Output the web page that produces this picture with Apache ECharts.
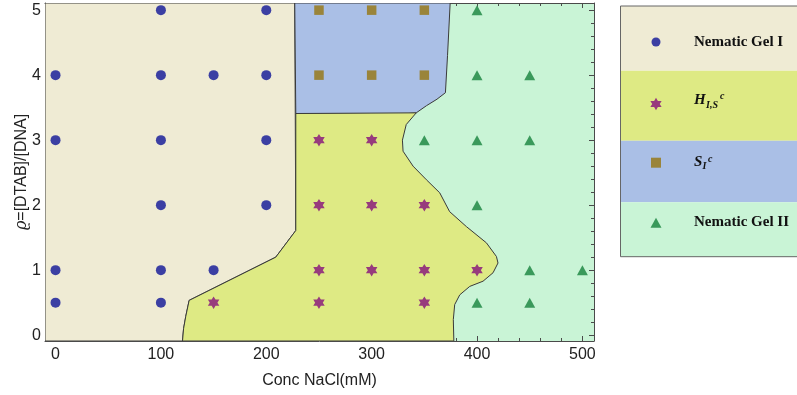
<!DOCTYPE html>
<html><head><meta charset="utf-8">
<script src="https://cdn.jsdelivr.net/npm/echarts@6/dist/echarts.min.js"></script>
<style>html,body{margin:0;padding:0;background:#fff}#c{width:797px;height:395px}</style>
</head><body><div id="c"></div>
<script>
// ---- tick values ----
const xTicks = [0, 100, 200, 300, 400, 500];
const yTicks = [0, 1, 2, 3, 4, 5];
const xMinor = [];
for (let v = 20; v < 510; v += 20) if (v % 100 !== 0) xMinor.push(v);
const yMinor = [];
for (let k = 1; k < 26; k++) if (k % 5 !== 0) yMinor.push(Math.round(k * 2) / 10);

// ---- measured points (Conc NaCl, rho) ----
const gelIPts  = [[0,0.5],[0,1],[0,3],[0,4],[100,0.5],[100,1],[100,2],[100,3],[100,4],[100,5],[150,1],[150,4],[200,2],[200,3],[200,4],[200,5]];
const hexPts   = [[150,0.5],[250,0.5],[250,1],[250,2],[250,3],[300,1],[300,2],[300,3],[350,0.5],[350,1],[350,2],[400,1]];
const lamPts   = [[250,4],[250,5],[300,4],[300,5],[350,4],[350,5]];
const gelIIPts = [[350,3],[400,0.5],[400,2],[400,3],[400,4],[400,5],[450,0.5],[450,1],[450,3],[450,4],[500,1]];

// ---- phase boundaries (data space) ----
const gelIRegion = [[-10,-0.09],[120.5,-0.09],[121.5,0.1],[123.6,0.29],[126.8,0.535],[209,1.2],[228,1.61],[227,5.11],[-10,5.11]];
const lamRegion  = [[227,5.11],[374.5,5.11],[372,4.3],[370,3.73],[362,3.63],[352,3.53],[342.3,3.42],[335,3.41],[228,3.41]];
const hexRegion  = [[120.5,-0.09],[378,-0.09],[377.5,0.24],[378.8,0.47],[383.6,0.62],[393.1,0.75],[405.7,0.83],[415.2,0.96],[419.9,1.11],[418.4,1.21],[408.9,1.42],[389.9,1.67],[374,1.9],[364.6,2.19],[352,2.39],[339.3,2.6],[329.8,2.83],[329.2,3.0],[332.8,3.24],[342.3,3.42],[228,3.41],[228,1.61],[209,1.2],[126.8,0.535],[123.6,0.29],[121.5,0.1]];

const C_GEL1 = '#EFEBD4', C_HEX = '#DEEA84', C_LAM = '#AABFE6', C_GEL2 = '#C9F4D6';
const M_GEL1 = '#3B3FA3', M_HEX = '#973B7D', M_LAM = '#9A843A', M_GEL2 = '#3A995B';
const regions = [
  {pts: gelIRegion, color: C_GEL1},
  {pts: lamRegion, color: C_LAM},
  {pts: hexRegion, color: C_HEX}
];
const STAR_PTS = [[0,-10],[2.887,-5],[8.66,-5],[5.774,0],[8.66,5],[2.887,5],[0,10],[-2.887,5],[-8.66,5],[-5.774,0],[-8.66,-5],[-2.887,-5]];
const STAR = 'path://M' + STAR_PTS.map(p => p[0] + ',' + p[1]).join('L') + 'Z';

const AX = '#4a4a4a';
const SANS = '"Liberation Sans", Arial, sans-serif';
const SERIF = '"Liberation Serif", "Times New Roman", serif';
const XMIN = -10, XMAX = 511, YMIN = -0.09, YMAX = 5.11;

function xAx(pos, major, labels) {
  return {
    type: 'value', position: pos, min: XMIN, max: XMAX, splitLine: {show: false},
    axisLine: {show: major, onZero: false, lineStyle: {color: AX, width: 1}},
    axisTick: {show: true, inside: true, length: major ? 5 : 3, customValues: major ? xTicks : xMinor, lineStyle: {color: AX}},
    axisLabel: {show: labels, customValues: xTicks, margin: 6, fontSize: 16, fontFamily: SANS, color: '#222'},
    name: labels ? 'Conc NaCl(mM)' : '', nameLocation: 'middle', nameGap: 32, nameMoveOverlap: false,
    nameTextStyle: {fontSize: 16, fontFamily: SANS, color: '#222'}
  };
}
function yAx(pos, major, labels) {
  return {
    type: 'value', position: pos, min: YMIN, max: YMAX, splitLine: {show: false},
    axisLine: {show: major, onZero: false, lineStyle: {color: AX, width: 1}},
    axisTick: {show: true, inside: true, length: major ? 5 : 3, customValues: major ? yTicks : yMinor, lineStyle: {color: AX}},
    axisLabel: {show: labels, customValues: yTicks, margin: 4, fontSize: 16, fontFamily: SANS, color: '#222'},
    name: labels ? '{i|ϱ}=[DTAB]/[DNA]' : '', nameLocation: 'middle', nameGap: 15, nameRotate: 90, nameMoveOverlap: false,
    nameTextStyle: {fontSize: 16, fontFamily: SANS, color: '#222', rich: {i: {fontSize: 16, fontStyle: 'italic', fontFamily: '"DejaVu Serif", serif', color: '#222'}}}
  };
}

function legendSym(type, cx, cy) {
  if (type === 'circle') return {type: 'circle', shape: {cx: cx, cy: cy, r: 4.5}, style: {fill: M_GEL1}};
  if (type === 'star') return {type: 'polygon', shape: {points: STAR_PTS.map(p => [cx + p[0] * 0.65, cy + p[1] * 0.62])}, style: {fill: M_HEX}};
  if (type === 'rect') return {type: 'rect', shape: {x: cx - 5, y: cy - 5, width: 10, height: 10}, style: {fill: M_LAM}};
  return {type: 'polygon', shape: {points: [[cx, cy - 5], [cx + 5.5, cy + 5], [cx - 5.5, cy + 5]]}, style: {fill: M_GEL2}};
}
function txt(x, y, s, font, va) {
  return {type: 'text', x: x, y: y, style: {text: s, font: font, fill: '#111', verticalAlign: va || 'middle', align: 'left'}};
}
const LBI = 'bold italic 15px ' + SERIF;
const LBI_S = 'bold italic 10px ' + SERIF;

const chart = echarts.init(document.getElementById('c'), null, {renderer: 'canvas'});
chart.setOption({
  animation: false,
  grid: {left: 45, right: 203, top: 3, bottom: 54, show: true, backgroundColor: C_GEL2, borderWidth: 0},
  xAxis: [xAx('bottom', true, true), xAx('bottom', false, false), xAx('top', true, false), xAx('top', false, false)],
  yAxis: [yAx('left', true, true), yAx('left', false, false), yAx('right', true, false), yAx('right', false, false)],
  series: [
    {
      type: 'custom', z: 1, silent: true, clip: true,
      data: regions.map((r, i) => [i, 0]),
      renderItem: function (params, api) {
        const reg = regions[params.dataIndex];
        return {type: 'polygon', shape: {points: reg.pts.map(p => api.coord(p))},
                style: {fill: reg.color, stroke: '#3a3a3a', lineWidth: 1}};
      }
    },
    {type: 'scatter', z: 3, data: gelIPts, symbol: 'circle', symbolSize: 10, itemStyle: {color: M_GEL1, opacity: 1}},
    {type: 'scatter', z: 3, data: hexPts, symbol: STAR, symbolSize: [11.5, 12.5], itemStyle: {color: M_HEX, opacity: 1}},
    {type: 'scatter', z: 3, data: lamPts, symbol: 'rect', symbolSize: 9.5, itemStyle: {color: M_LAM, opacity: 1}},
    {type: 'scatter', z: 3, data: gelIIPts, symbol: 'triangle', symbolSize: [11, 10], itemStyle: {color: M_GEL2, opacity: 1}}
  ],
  graphic: [
    {type: 'rect', shape: {x: 620.5, y: 6, width: 200, height: 64.7}, style: {fill: C_GEL1}},
    {type: 'rect', shape: {x: 620.5, y: 70.7, width: 200, height: 70}, style: {fill: C_HEX}},
    {type: 'rect', shape: {x: 620.5, y: 140.7, width: 200, height: 61.6}, style: {fill: C_LAM}},
    {type: 'rect', shape: {x: 620.5, y: 202.3, width: 200, height: 54.4}, style: {fill: C_GEL2}},
    {type: 'rect', shape: {x: 620.5, y: 6, width: 200, height: 250.7}, style: {fill: 'none', stroke: '#666', lineWidth: 1}},
    legendSym('circle', 656, 42),
    legendSym('star', 656, 104),
    legendSym('rect', 656, 162.7),
    legendSym('tri', 656, 222.7),
    txt(694, 42, 'Nematic Gel I', 'bold 15px ' + SERIF),
    txt(694, 100, 'H', LBI),
    txt(706, 105, 'I,S', LBI_S),
    txt(720, 96, 'c', LBI_S),
    txt(694, 162, 'S', LBI),
    txt(702.5, 166, 'I', LBI_S),
    txt(708, 159, 'c', LBI_S),
    txt(694, 222, 'Nematic Gel II', 'bold 15px ' + SERIF)
  ]
});
</script></body></html>
